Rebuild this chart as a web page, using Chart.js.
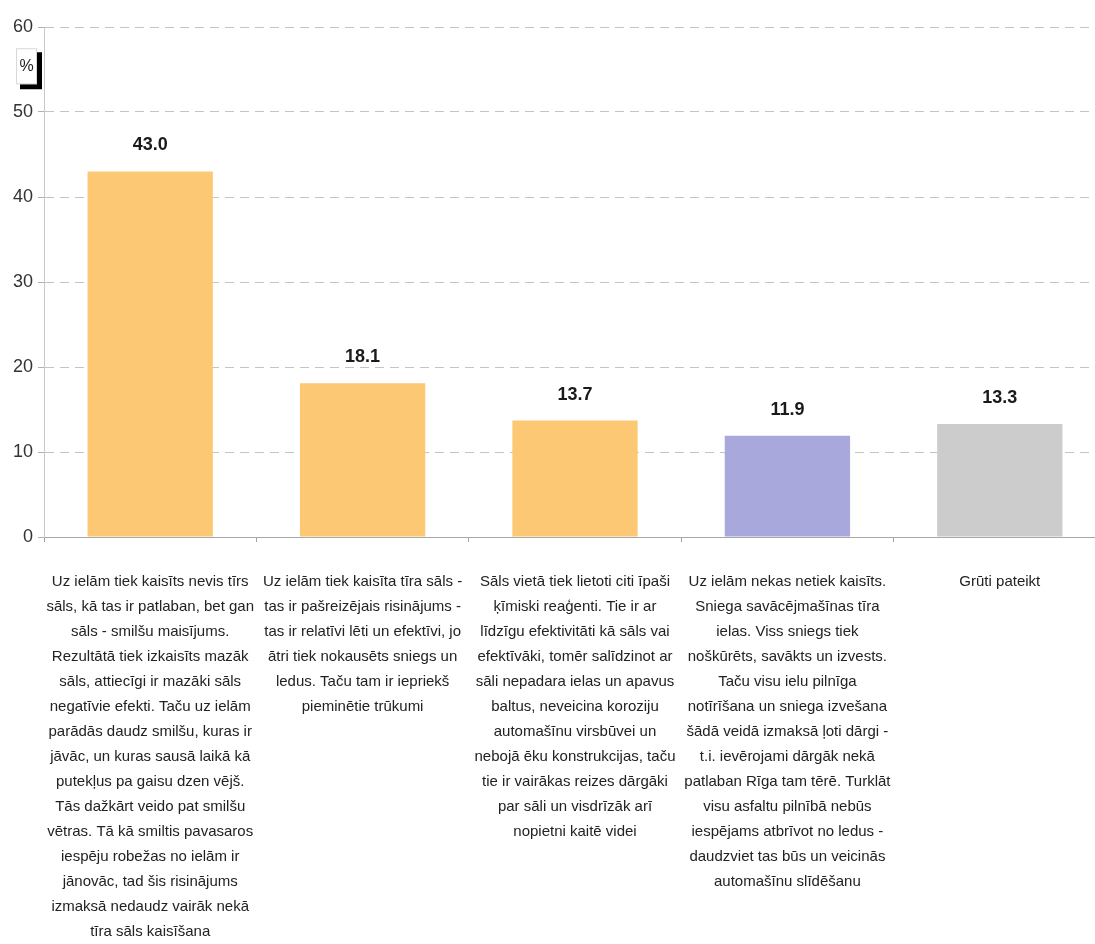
<!DOCTYPE html>
<html>
<head>
<meta charset="utf-8">
<script src="https://cdn.jsdelivr.net/npm/chart.js@4.4.1/dist/chart.umd.min.js"></script>
<style>
  html, body { margin: 0; padding: 0; background: #fff; overflow: hidden; }
  #wrap { width: 1106px; height: 944px; }
</style>
</head>
<body>
<div id="wrap"><canvas id="chartjs-0" width="1106" height="944"></canvas></div>
<script>
// answer texts, one line per array item (as wrapped in the original)
var categories = [
  ["Uz ielām tiek kaisīts nevis tīrs", "sāls, kā tas ir patlaban, bet gan", "sāls - smilšu maisījums.",
   "Rezultātā tiek izkaisīts mazāk", "sāls, attiecīgi ir mazāki sāls", "negatīvie efekti. Taču uz ielām",
   "parādās daudz smilšu, kuras ir", "jāvāc, un kuras sausā laikā kā", "putekļus pa gaisu dzen vējš.",
   "Tās dažkārt veido pat smilšu", "vētras. Tā kā smiltis pavasaros", "iespēju robežas no ielām ir",
   "jānovāc, tad šis risinājums", "izmaksā nedaudz vairāk nekā", "tīra sāls kaisīšana"],
  ["Uz ielām tiek kaisīta tīra sāls -", "tas ir pašreizējais risinājums -", "tas ir relatīvi lēti un efektīvi, jo",
   "ātri tiek nokausēts sniegs un", "ledus. Taču tam ir iepriekš", "pieminētie trūkumi"],
  ["Sāls vietā tiek lietoti citi īpaši", "ķīmiski reaģenti. Tie ir ar", "līdzīgu efektivitāti kā sāls vai",
   "efektīvāki, tomēr salīdzinot ar", "sāli nepadara ielas un apavus", "baltus, neveicina koroziju",
   "automašīnu virsbūvei un", "nebojā ēku konstrukcijas, taču", "tie ir vairākas reizes dārgāki",
   "par sāli un visdrīzāk arī", "nopietni kaitē videi"],
  ["Uz ielām nekas netiek kaisīts.", "Sniega savācējmašīnas tīra", "ielas. Viss sniegs tiek",
   "noškūrēts, savākts un izvests.", "Taču visu ielu pilnīga", "notīrīšana un sniega izvešana",
   "šādā veidā izmaksā ļoti dārgi -", "t.i. ievērojami dārgāk nekā", "patlaban Rīga tam tērē. Turklāt",
   "visu asfaltu pilnībā nebūs", "iespējams atbrīvot no ledus -", "daudzviet tas būs un veicinās",
   "automašīnu slīdēšanu"],
  ["Grūti pateikt"]
];
var values = [43.0, 18.1, 13.7, 11.9, 13.3];
var barColors = ["#fdc873", "#fdc873", "#fdc873", "#a8a8dd", "#cccccc"];
var yTicks = [0, 10, 20, 30, 40, 50, 60];
var unitLabel = "%";

var sans = "'Liberation Sans', Arial, sans-serif";

// value above each bar
var valueLabels = {
  id: "valueLabels",
  afterDatasetsDraw: function (chart) {
    var ctx = chart.ctx;
    var meta = chart.getDatasetMeta(0);
    ctx.save();
    ctx.font = "bold 18px " + sans;
    ctx.fillStyle = "#1a1a1a";
    ctx.textAlign = "center";
    ctx.textBaseline = "bottom";
    meta.data.forEach(function (bar, i) {
      ctx.fillText(values[i].toFixed(1), bar.x, bar.y - 17);
    });
    ctx.restore();
  }
};

// small "%" box with shadow next to the y axis
var unitBox = {
  id: "unitBox",
  afterDraw: function (chart) {
    var ctx = chart.ctx;
    var y = chart.scales.y;
    var top = y.getPixelForValue(57.5);
    ctx.save();
    ctx.fillStyle = "#000";
    ctx.fillRect(20, top + 4, 22, 37);
    ctx.fillStyle = "#fff";
    ctx.fillRect(16, top, 21, 36);
    ctx.strokeStyle = "#d8d8d8";
    ctx.lineWidth = 1;
    ctx.strokeRect(16.5, top + 0.5, 20, 35);
    ctx.fillStyle = "#222";
    ctx.font = "16px " + sans;
    ctx.textAlign = "center";
    ctx.textBaseline = "middle";
    ctx.fillText(unitLabel, 26.5, top + 18);
    ctx.restore();
  }
};

var ctx0 = document.getElementById("chartjs-0");
var myChart = new Chart(ctx0, {
  type: "bar",
  data: {
    labels: categories,
    datasets: [{
      data: values,
      backgroundColor: barColors,
      borderWidth: 0,
      barPercentage: 0.59,
      categoryPercentage: 1.0
    }]
  },
  options: {
    responsive: false,
    animation: false,
    events: [],
    layout: { padding: { top: 27, right: 0, bottom: 0, left: 0 } },
    plugins: {
      legend: { display: false },
      tooltip: { enabled: false }
    },
    scales: {
      x: {
        grid: {
          display: true,
          drawOnChartArea: false,
          drawTicks: true,
          tickLength: 5,
          color: "#a0a0a0"
        },
        border: { display: true, color: "#a8a8a8", width: 1 },
        ticks: {
          autoSkip: false,
          maxRotation: 0,
          minRotation: 0,
          padding: 27,
          color: "#222",
          font: { family: sans, size: 15, lineHeight: "25px" }
        },
        afterFit: function (scale) { scale.height = 407; }
      },
      y: {
        min: 0,
        max: 60,
        afterBuildTicks: function (scale) {
          scale.ticks = yTicks.map(function (v) { return { value: v }; });
        },
        grid: {
          color: "#c4c4c4",
          lineWidth: 1,
          drawTicks: true,
          tickLength: 6,
          tickColor: "#b0b0b0"
        },
        // v4: border.dash dashes the gridlines, the axis line stays solid
        border: { display: true, color: "#c8c8c8", dash: [9, 6] },
        ticks: {
          padding: 5,
          color: "#333",
          font: { family: sans, size: 18 }
        },
        afterFit: function (scale) { scale.width = 44; }
      }
    }
  },
  plugins: [valueLabels, unitBox]
});
</script>
</body>
</html>
